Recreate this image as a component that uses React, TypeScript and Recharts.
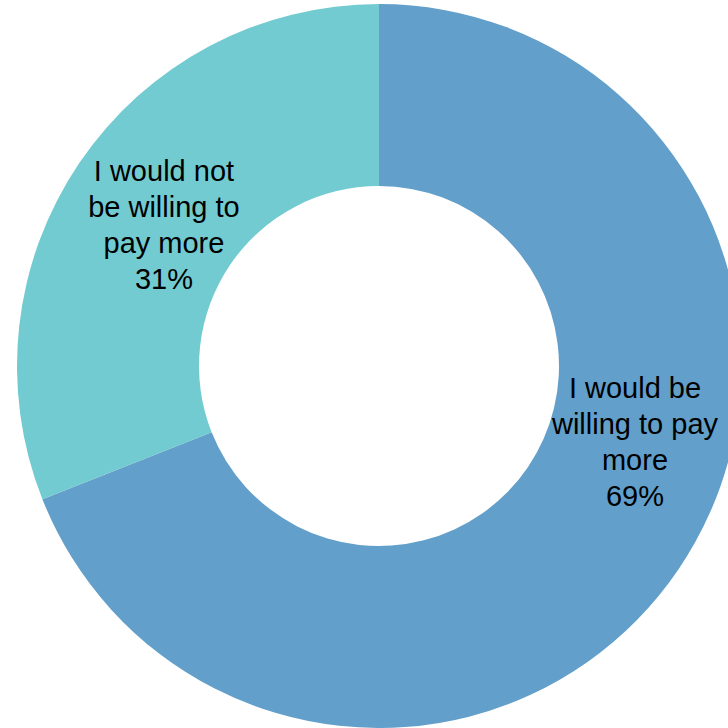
import { PieChart, Pie, Cell } from 'recharts'

const categories = ['I would be willing to pay more', 'I would not be willing to pay more']
const values = [69, 31]
const labelLines = [
  ['I would be', 'willing to pay', 'more'],
  ['I would not', 'be willing to', 'pay more'],
]
const colors = ['#629FCA', '#72CBD0']

const data = categories.map((name, i) => ({ name, value: values[i] }))

const RAD = Math.PI / 180

// Excel's "best fit" nudges the labels; shift angle / radius a bit per slice
const angleShift = [17.7, 1]
const radiusShift = [-4, -14]

function renderLabel(props: any) {
  const { cx, cy, innerRadius, outerRadius, midAngle, index, value } = props
  const r = (innerRadius + outerRadius) / 2 + radiusShift[index]
  const a = (midAngle + angleShift[index]) * RAD
  const x = cx + r * Math.cos(a)
  const y = cy - r * Math.sin(a)
  const lines = [...labelLines[index], `${value}%`]
  const lh = 36
  const top = y - ((lines.length - 1) * lh) / 2
  return (
    <text
      x={x}
      y={top}
      textAnchor="middle"
      dominantBaseline="central"
      fill="#000"
      fontSize={29}
      fontFamily="'Liberation Sans', Arial, sans-serif"
    >
      {lines.map((l, i) => (
        <tspan key={i} x={x} y={top + i * lh}>
          {l}
        </tspan>
      ))}
    </text>
  )
}

export default function App() {
  return (
    <div style={{ position: 'absolute', left: 0, top: 0, width: 728, height: 728 }}>
      <PieChart width={728} height={728} margin={{ top: 0, right: 0, bottom: 0, left: 0 }}>
        <Pie
          data={data}
          dataKey="value"
          cx={379}
          cy={366}
          innerRadius={180}
          outerRadius={362}
          startAngle={90}
          endAngle={-270}
          stroke="none"
          label={renderLabel}
          labelLine={false}
          isAnimationActive={false}
        >
          {data.map((d, i) => (
            <Cell key={d.name} fill={colors[i]} />
          ))}
        </Pie>
      </PieChart>
    </div>
  )
}
